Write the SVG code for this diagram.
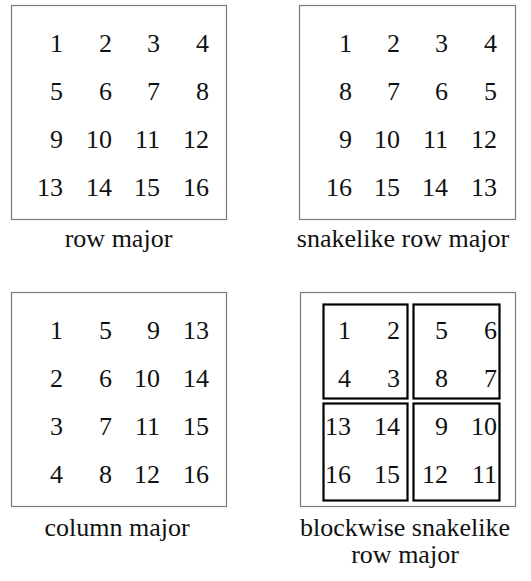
<svg xmlns="http://www.w3.org/2000/svg" width="531" height="581" viewBox="0 0 531 581" font-family="'Liberation Serif', 'Times New Roman', Times, 'DejaVu Serif', serif">
<style>
.frame{fill:#fff;stroke:#7a7a7a;stroke-width:1.2}
.block{fill:none;stroke:#000;stroke-width:2.2}
text{font-family:'Liberation Serif','Times New Roman',Times,'DejaVu Serif',serif;font-size:26px;fill:#111}
.n{text-anchor:end}
.lbl{text-anchor:middle}
</style>
<rect width="531" height="581" fill="#fff"/>
<g id="row-major">
<rect class="frame" x="11.5" y="5.5" width="215" height="214"/>
<text class="n" x="63" y="52">1</text><text class="n" x="112" y="52">2</text><text class="n" x="160" y="52">3</text><text class="n" x="209" y="52">4</text>
<text class="n" x="63" y="100">5</text><text class="n" x="112" y="100">6</text><text class="n" x="160" y="100">7</text><text class="n" x="209" y="100">8</text>
<text class="n" x="63" y="148">9</text><text class="n" x="112" y="148">10</text><text class="n" x="160" y="148">11</text><text class="n" x="209" y="148">12</text>
<text class="n" x="63" y="196">13</text><text class="n" x="112" y="196">14</text><text class="n" x="160" y="196">15</text><text class="n" x="209" y="196">16</text>
<text class="lbl" x="118.5" y="247">row major</text>
</g>
<g id="snakelike-row-major">
<rect class="frame" x="299.5" y="5.5" width="216" height="214"/>
<text class="n" x="352" y="52">1</text><text class="n" x="400" y="52">2</text><text class="n" x="448" y="52">3</text><text class="n" x="497" y="52">4</text>
<text class="n" x="352" y="100">8</text><text class="n" x="400" y="100">7</text><text class="n" x="448" y="100">6</text><text class="n" x="497" y="100">5</text>
<text class="n" x="352" y="148">9</text><text class="n" x="400" y="148">10</text><text class="n" x="448" y="148">11</text><text class="n" x="497" y="148">12</text>
<text class="n" x="352" y="196">16</text><text class="n" x="400" y="196">15</text><text class="n" x="448" y="196">14</text><text class="n" x="497" y="196">13</text>
<text class="lbl" x="403" y="247">snakelike row major</text>
</g>
<g id="column-major">
<rect class="frame" x="11.5" y="292.5" width="215" height="214"/>
<text class="n" x="63" y="339">1</text><text class="n" x="112" y="339">5</text><text class="n" x="160" y="339">9</text><text class="n" x="209" y="339">13</text>
<text class="n" x="63" y="387">2</text><text class="n" x="112" y="387">6</text><text class="n" x="160" y="387">10</text><text class="n" x="209" y="387">14</text>
<text class="n" x="63" y="435">3</text><text class="n" x="112" y="435">7</text><text class="n" x="160" y="435">11</text><text class="n" x="209" y="435">15</text>
<text class="n" x="63" y="483">4</text><text class="n" x="112" y="483">8</text><text class="n" x="160" y="483">12</text><text class="n" x="209" y="483">16</text>
<text class="lbl" x="117" y="536">column major</text>
</g>
<g id="blockwise-snakelike-row-major">
<rect class="frame" x="300.5" y="292.5" width="215" height="214"/>
<rect class="block" x="323.5" y="304.5" width="84" height="94"/>
<rect class="block" x="413.5" y="304.5" width="86" height="94"/>
<rect class="block" x="323.5" y="403.5" width="84" height="97"/>
<rect class="block" x="413.5" y="403.5" width="86" height="97"/>
<text class="n" x="351" y="339">1</text><text class="n" x="400" y="339">2</text><text class="n" x="448" y="339">5</text><text class="n" x="497" y="339">6</text>
<text class="n" x="351" y="387">4</text><text class="n" x="400" y="387">3</text><text class="n" x="448" y="387">8</text><text class="n" x="497" y="387">7</text>
<text class="n" x="351" y="435">13</text><text class="n" x="400" y="435">14</text><text class="n" x="448" y="435">9</text><text class="n" x="497" y="435">10</text>
<text class="n" x="351" y="483">16</text><text class="n" x="400" y="483">15</text><text class="n" x="448" y="483">12</text><text class="n" x="497" y="483">11</text>
<text class="lbl" x="405" y="536">blockwise snakelike</text>
<text class="lbl" x="405" y="563">row major</text>
</g>
</svg>
